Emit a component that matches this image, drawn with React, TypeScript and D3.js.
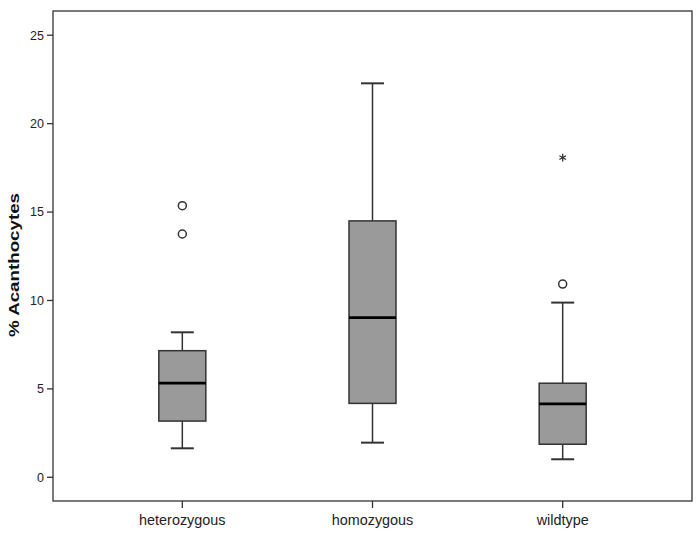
import React from "react";
import * as d3 from "d3";

// groups and five-number summaries
const groups = ["heterozygous", "homozygous", "wildtype"];
const whiskerLow = [1.64, 1.96, 1.02];
const q1 = [3.18, 4.18, 1.87];
const medians = [5.33, 9.03, 4.15];
const q3 = [7.16, 14.5, 5.32];
const whiskerHigh = [8.2, 22.28, 9.88];
// outliers (circles) and extremes (stars)
const outlierGroup = ["heterozygous", "heterozygous", "wildtype"];
const outlierValue = [15.36, 13.76, 10.93];
const extremeGroup = ["wildtype"];
const extremeValue = [18.08];
const yTicks = [0, 5, 10, 15, 20, 25];

const W = 700;
const H = 537;
const frame = { left: 53, right: 692, top: 11, bottom: 501 };
const font = "'Liberation Sans', Arial, sans-serif";
const ink = "#333";

export default function App() {
  const x = d3
    .scalePoint<string>()
    .domain(groups)
    .range([frame.left, frame.right])
    .padding(0.68);
  const y = d3
    .scaleLinear()
    .domain([-1.34, 26.37])
    .range([frame.bottom, frame.top]);

  const boxW = 47;
  const capW = 23;

  const star = d3.symbol().type(d3.symbolAsterisk).size(40)();

  return (
    <svg
      width={W}
      height={H}
      style={{ position: "absolute", left: 0, top: 0, background: "#fff" }}
    >
      <rect
        x={frame.left}
        y={frame.top}
        width={frame.right - frame.left}
        height={frame.bottom - frame.top}
        fill="#fff"
        stroke={ink}
        strokeWidth={1.3}
      />

      {/* y axis ticks */}
      {yTicks.map((t) => (
        <g key={t}>
          <line
            x1={frame.left - 6}
            x2={frame.left}
            y1={y(t)}
            y2={y(t)}
            stroke={ink}
            strokeWidth={1.3}
          />
          <text
            x={frame.left - 9}
            y={y(t)}
            dy="0.35em"
            textAnchor="end"
            fontFamily={font}
            fontSize={12.5}
            fill="#222"
          >
            {t}
          </text>
        </g>
      ))}
      <text
        transform={`translate(19,${(frame.top + frame.bottom) / 2 + 9}) rotate(-90)`}
        textAnchor="middle"
        fontFamily={font}
        fontSize={15}
        fontWeight="bold"
        fill="#111"
        textLength={144}
        lengthAdjust="spacingAndGlyphs"
      >
        % Acanthocytes
      </text>

      {/* x axis ticks */}
      {groups.map((g) => (
        <g key={g}>
          <line
            x1={x(g)!}
            x2={x(g)!}
            y1={frame.bottom}
            y2={frame.bottom + 7}
            stroke={ink}
            strokeWidth={1.3}
          />
          <text
            x={x(g)!}
            y={frame.bottom + 24}
            textAnchor="middle"
            fontFamily={font}
            fontSize={14.4}
            fill="#222"
          >
            {g}
          </text>
        </g>
      ))}

      {/* boxes */}
      {groups.map((g, i) => {
        const cx = x(g)!;
        return (
          <g key={g}>
            <line x1={cx} x2={cx} y1={y(whiskerHigh[i])} y2={y(q3[i])} stroke={ink} strokeWidth={1.5} />
            <line x1={cx} x2={cx} y1={y(q1[i])} y2={y(whiskerLow[i])} stroke={ink} strokeWidth={1.5} />
            <line
              x1={cx - capW / 2}
              x2={cx + capW / 2}
              y1={y(whiskerHigh[i])}
              y2={y(whiskerHigh[i])}
              stroke={ink}
              strokeWidth={2}
            />
            <line
              x1={cx - capW / 2}
              x2={cx + capW / 2}
              y1={y(whiskerLow[i])}
              y2={y(whiskerLow[i])}
              stroke={ink}
              strokeWidth={2}
            />
            <rect
              x={cx - boxW / 2}
              y={y(q3[i])}
              width={boxW}
              height={y(q1[i]) - y(q3[i])}
              fill="#9a9a9a"
              stroke={ink}
              strokeWidth={1.5}
            />
            <line
              x1={cx - boxW / 2}
              x2={cx + boxW / 2}
              y1={y(medians[i])}
              y2={y(medians[i])}
              stroke="#000"
              strokeWidth={2.8}
            />
          </g>
        );
      })}

      {/* outliers */}
      {outlierValue.map((v, i) => (
        <circle
          key={i}
          cx={x(outlierGroup[i])!}
          cy={y(v)}
          r={4}
          fill="#fff"
          stroke={ink}
          strokeWidth={1.5}
        />
      ))}
      {extremeValue.map((v, i) => (
        <path
          key={i}
          d={star!}
          transform={`translate(${x(extremeGroup[i])!},${y(v)})`}
          fill="none"
          stroke={ink}
          strokeWidth={1.3}
        />
      ))}
    </svg>
  );
}
